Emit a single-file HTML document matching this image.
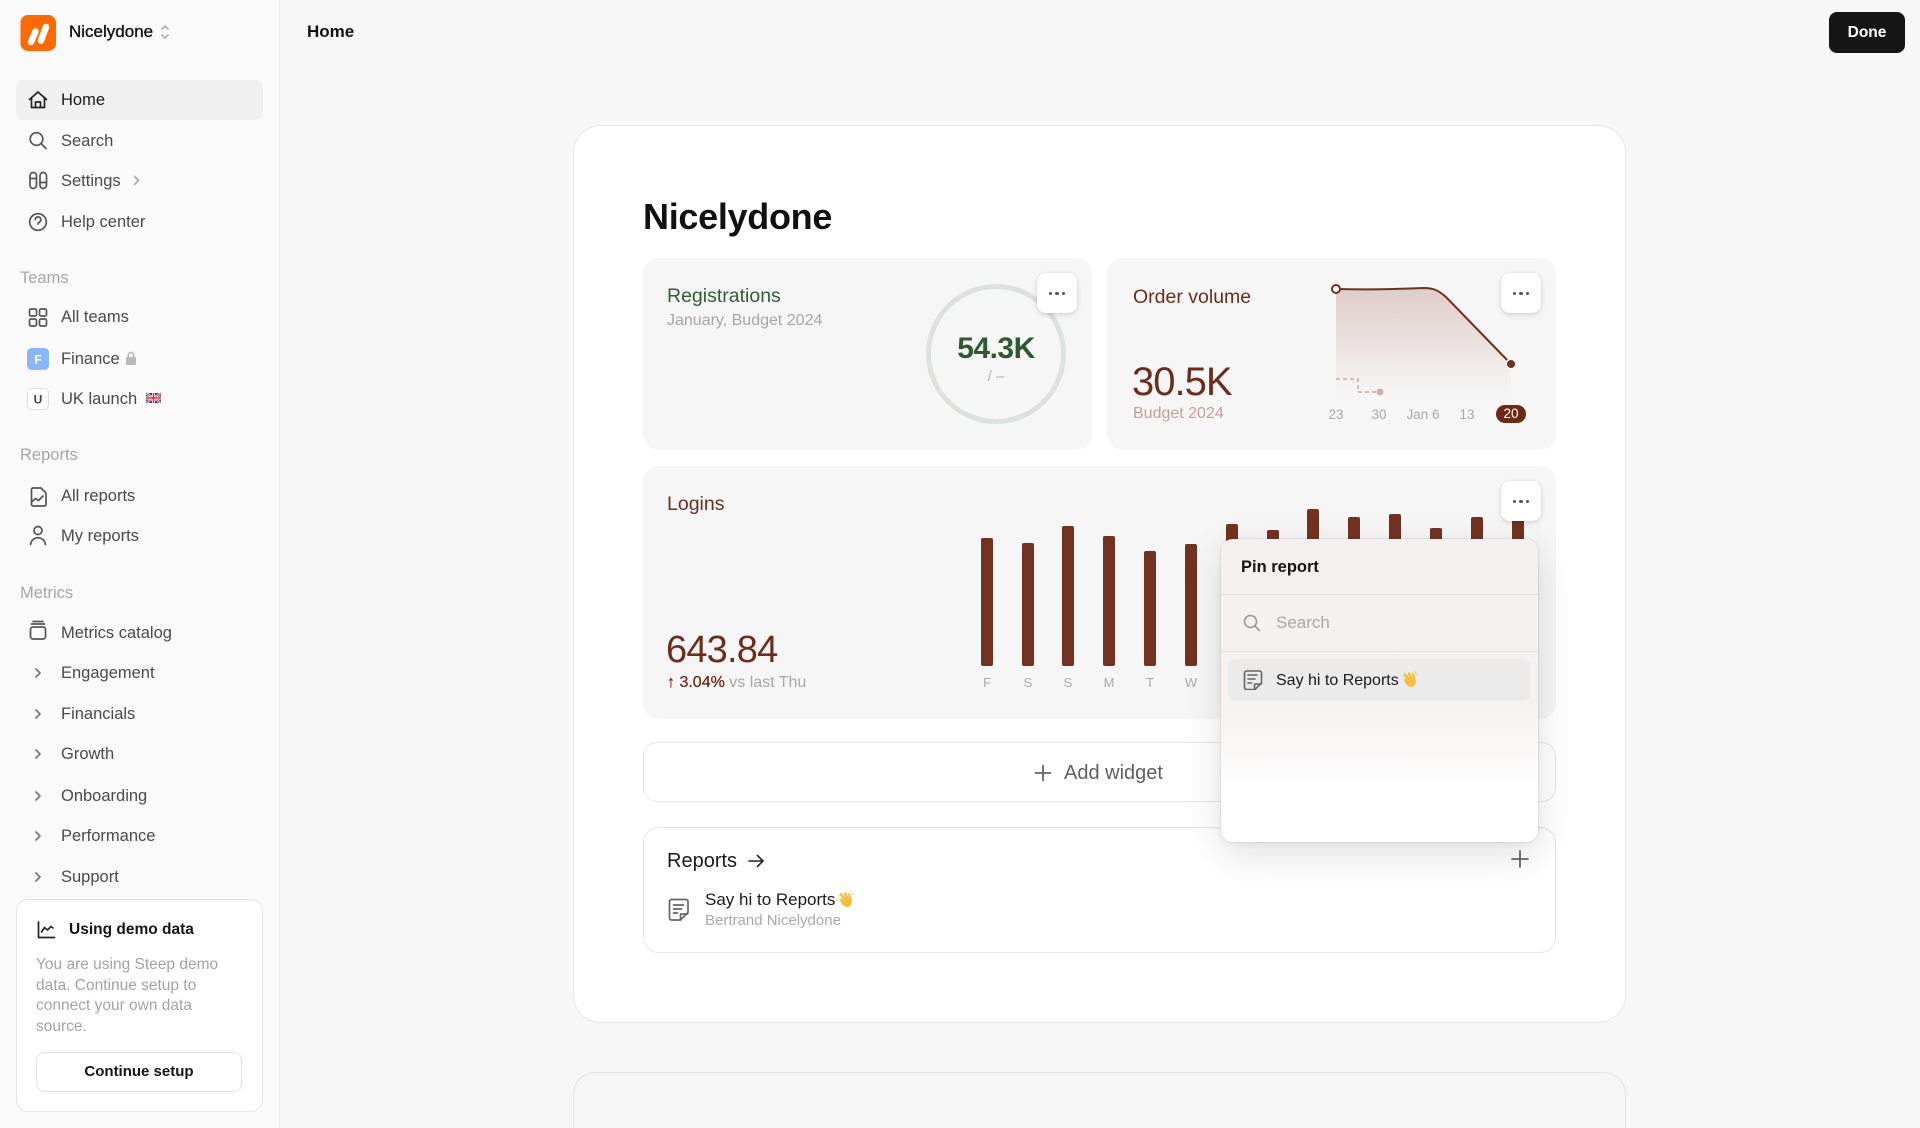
<!DOCTYPE html>
<html><head><meta charset="utf-8">
<style>
*{margin:0;padding:0;box-sizing:border-box}
html,body{width:1920px;height:1128px;overflow:hidden}
body{background:#f7f7f7;font-family:"Liberation Sans",Arial,sans-serif;position:relative;color:#1a1a1a}
.a{position:absolute}
.t{position:absolute;white-space:nowrap;line-height:20px}
.nav{font-size:16.5px;color:#4a4a4a}
.sec{font-size:16.5px;color:#a6a6a6}
.more{position:absolute;width:40px;height:40px;background:#fff;border-radius:9px;box-shadow:0 2px 6px rgba(0,0,0,.13),0 0 0 1px rgba(0,0,0,.03);z-index:6}
.more i{position:absolute;top:19px;width:3.4px;height:3.4px;border-radius:50%;background:#555}
.card{position:absolute;background:#f6f6f6;border-radius:16px}
.emo{display:inline-block;position:relative;width:18px;height:18px;vertical-align:-3px;margin-left:3px;color:transparent;overflow:hidden}
.emo svg{position:absolute;left:0;top:0}
</style></head><body>

<!-- Sidebar -->
<div class="a" style="left:0;top:0;width:280px;height:1128px;background:#fafafa;border-right:1px solid #ebebeb"></div>
<div class="a" style="left:16px;top:80px;width:247px;height:40px;background:#f0f0f0;border-radius:8px"></div>

<div class="t" style="left:69px;top:22px;font-size:17px;color:#111;-webkit-text-stroke:0.35px #111">Nicelydone</div>

<div class="t nav" style="left:61px;top:90px;color:#1a1a1a">Home</div>
<div class="t nav" style="left:61px;top:131px">Search</div>
<div class="t nav" style="left:61px;top:171px">Settings</div>
<div class="t nav" style="left:61px;top:212px">Help center</div>

<div class="t sec" style="left:20px;top:268px">Teams</div>
<div class="t nav" style="left:61px;top:307px">All teams</div>
<div class="t nav" style="left:61px;top:349px">Finance</div>
<div class="t nav" style="left:61px;top:389px">UK launch <span class="emo" style="width:17px">🇬🇧<svg width="17" height="18" viewBox="0 0 17 18"><rect x="1" y="4" width="15" height="10" fill="#2b3f8c"/><path d="M1 4L16 14M16 4L1 14" stroke="#fff" stroke-width="2.2"/><path d="M1 4L16 14M16 4L1 14" stroke="#d2323c" stroke-width=".8"/><path d="M8.5 4V14M1 9H16" stroke="#fff" stroke-width="3"/><path d="M8.5 4V14M1 9H16" stroke="#d2323c" stroke-width="1.6"/></svg></span></div>

<div class="t sec" style="left:20px;top:445px">Reports</div>
<div class="t nav" style="left:61px;top:486px">All reports</div>
<div class="t nav" style="left:61px;top:526px">My reports</div>

<div class="t sec" style="left:20px;top:583px">Metrics</div>
<div class="t nav" style="left:61px;top:623px">Metrics catalog</div>
<div class="t nav" style="left:61px;top:663px">Engagement</div>
<div class="t nav" style="left:61px;top:704px">Financials</div>
<div class="t nav" style="left:61px;top:744px">Growth</div>
<div class="t nav" style="left:61px;top:786px">Onboarding</div>
<div class="t nav" style="left:61px;top:826px">Performance</div>
<div class="t nav" style="left:61px;top:867px">Support</div>

<!-- demo card -->
<div class="a" style="left:16px;top:899px;width:247px;height:213px;background:#fff;border:1px solid #e5e5e5;border-radius:12px"></div>
<div class="t" style="left:69px;top:920px;font-size:15.5px;font-weight:700;color:#151515">Using demo data</div>
<div class="a" style="left:36px;top:955px;font-size:15.5px;line-height:20.5px;color:#a3a3a3;white-space:nowrap">You are using Steep demo<br>data. Continue setup to<br>connect your own data<br>source.</div>
<div class="a" style="left:36px;top:1052px;width:206px;height:40px;border:1px solid #e2e2e2;border-radius:8px;background:#fff;text-align:center;line-height:38px;font-size:15px;font-weight:700;color:#151515">Continue setup</div>

<!-- Top bar -->
<div class="t" style="left:307px;top:22px;font-size:17px;font-weight:700;color:#111">Home</div>
<div class="a" style="left:1829px;top:12px;width:76px;height:41px;background:#161616;border-radius:8px;color:#fff;font-size:15.5px;font-weight:700;text-align:center;line-height:41px">Done</div>

<!-- Main card -->
<div class="a" style="left:573px;top:125px;width:1053px;height:898px;background:#fff;border:1px solid #e8e8e8;border-radius:28px"></div>
<div class="a" style="left:573px;top:1072px;width:1053px;height:56px;background:#f6f6f6;border:1px solid #e3e3e3;border-bottom:none;border-radius:22px 22px 0 0"></div>

<div class="t" style="left:643px;top:195px;font-size:36px;line-height:44px;font-weight:700;color:#111;letter-spacing:-.3px">Nicelydone</div>

<!-- Registrations -->
<div class="card" style="left:643px;top:258px;width:449px;height:192px"></div>
<div class="t" style="left:667px;top:285px;font-size:19.5px;line-height:22px;color:#2f5f30">Registrations</div>
<div class="t" style="left:667px;top:311px;font-size:16px;color:#a6a6a6">January, Budget 2024</div>
<div class="t" style="left:936px;top:331px;width:120px;text-align:center;font-size:30px;line-height:36px;font-weight:700;color:#2d5a2e;letter-spacing:-.5px">54.3K</div>
<div class="t" style="left:936px;top:367px;width:120px;text-align:center;font-size:15px;color:#b3b3b3">/ –</div>

<!-- Order volume -->
<div class="card" style="left:1107px;top:258px;width:449px;height:192px"></div>
<div class="t" style="left:1133px;top:286px;font-size:19.5px;line-height:22px;color:#6e2d1c">Order volume</div>
<div class="t" style="left:1132px;top:358px;font-size:40px;line-height:48px;color:#6e2d1c;letter-spacing:-1px">30.5K</div>
<div class="t" style="left:1133px;top:404px;font-size:16px;color:#c2a199">Budget 2024</div>
<div class="t" style="left:1316px;top:405px;width:40px;text-align:center;font-size:13.5px;color:#a8a8a8">23</div>
<div class="t" style="left:1359px;top:405px;width:40px;text-align:center;font-size:13.5px;color:#a8a8a8">30</div>
<div class="t" style="left:1398px;top:405px;width:50px;text-align:center;font-size:13.5px;color:#a8a8a8">Jan 6</div>
<div class="t" style="left:1447px;top:405px;width:40px;text-align:center;font-size:13.5px;color:#a8a8a8">13</div>
<div class="a" style="left:1496px;top:405px;width:30px;height:18px;border-radius:9px;background:#6b2916;color:#fff;font-size:13.5px;line-height:18px;text-align:center">20</div>

<!-- Logins -->
<div class="card" style="left:643px;top:466px;width:913px;height:253px"></div>
<div class="t" style="left:667px;top:493px;font-size:19.5px;line-height:22px;color:#6e2d1c">Logins</div>
<div class="t" style="left:666px;top:627px;font-size:38px;line-height:46px;color:#6e2d1c;letter-spacing:-.8px">643.84</div>
<div class="t" style="left:667px;top:673px;font-size:16px;color:#a8a8a8"><span style="color:#6e2d1c;-webkit-text-stroke:0.3px #6e2d1c">↑ 3.04%</span> vs last Thu</div>
<div class="t" style="left:977px;top:673px;width:20px;text-align:center;font-size:13px;color:#ababab">F</div>
<div class="t" style="left:1018px;top:673px;width:20px;text-align:center;font-size:13px;color:#ababab">S</div>
<div class="t" style="left:1058px;top:673px;width:20px;text-align:center;font-size:13px;color:#ababab">S</div>
<div class="t" style="left:1099px;top:673px;width:20px;text-align:center;font-size:13px;color:#ababab">M</div>
<div class="t" style="left:1140px;top:673px;width:20px;text-align:center;font-size:13px;color:#ababab">T</div>
<div class="t" style="left:1181px;top:673px;width:20px;text-align:center;font-size:13px;color:#ababab">W</div>
<div class="t" style="left:1221px;top:673px;width:20px;text-align:center;font-size:13px;color:#ababab">T</div>

<!-- Add widget -->
<div class="a" style="left:643px;top:742px;width:913px;height:60px;background:#fff;border:1px solid #e5e5e5;border-radius:14px"></div>
<div class="t" style="left:1064px;top:762px;font-size:20px;line-height:22px;color:#5f5f5f">Add widget</div>

<!-- Reports card -->
<div class="a" style="left:643px;top:827px;width:913px;height:126px;background:#fff;border:1px solid #e5e5e5;border-radius:16px"></div>
<div class="t" style="left:667px;top:850px;font-size:20px;line-height:22px;color:#1a1a1a">Reports</div>
<div class="t" style="left:705px;top:890px;font-size:17px;color:#1a1a1a">Say hi to Reports<span class="emo">👋<svg width="18" height="18" viewBox="0 0 18 18"><path d="M5 15c-3-3-3.5-6-2-7l2 2-3-5c0-1.5 1.5-1.8 2.3-.8L7.5 8 5.6 3.3c.3-1.4 1.8-1.4 2.4-.4l2.6 4.6-.5-3.7c.4-1.2 1.8-1.1 2.2 0l1.5 6.5c.6 3.1-.8 6-3.8 6.7-1.7.3-3.3-.5-5-2z" fill="#f6bf3a"/><path d="M2 2.5l1.5 1M1 5.5l1.3.3M14 1.5l-.6 1.4M16 4l-1.4.6" stroke="#bbb" stroke-width=".9"/></svg></span></div>
<div class="t" style="left:705px;top:911px;font-size:15px;color:#a9a9a9">Bertrand Nicelydone</div>

<!-- overlay svg for icons & charts -->
<svg class="a" style="left:0;top:0;z-index:3" width="1920" height="1128" viewBox="0 0 1920 1128">
 <defs>
  <linearGradient id="ar" x1="0" y1="0" x2="0" y2="1">
   <stop offset="0" stop-color="#c09a90" stop-opacity=".45"/>
   <stop offset="1" stop-color="#c09a90" stop-opacity="0"/>
  </linearGradient>
 </defs>
 <!-- logo -->
 <rect x="20.5" y="15" width="35.5" height="36" rx="7.5" fill="#ff6a00"/>
 <path d="M31 42L35.5 31.5" stroke="#fff" stroke-width="6.5" stroke-linecap="round"/>
 <path d="M41 40.5L46 27" stroke="#fff" stroke-width="6.5" stroke-linecap="round"/>
 <path d="M161.5 29.5l3.5-3.5 3.5 3.5M161.5 34.5l3.5 3.5 3.5-3.5" stroke="#a5a5a5" stroke-width="1.5" fill="none"/>
 <g fill="none" stroke="#555" stroke-width="1.7" stroke-linecap="round" stroke-linejoin="round">
  <!-- home -->
  <path d="M29.5 99.5L38 92l8.5 7.5M31.5 97.5V107.5H44.5V97.5M35.5 107.5V102h5v5.5" stroke="#222"/>
  <!-- search -->
  <circle cx="36.5" cy="139" r="6.3"/><path d="M41.2 143.7L46 148.5"/>
  <!-- settings -->
  <rect x="30" y="172.5" width="6.5" height="16" rx="3.2"/><rect x="40" y="172.5" width="6.5" height="16" rx="3.2"/>
  <path d="M30 178.5h6.5M40 182.5h6.5"/>
  <path d="M134.5 176.5l4 4-4 4" stroke="#aaa"/>
  <!-- help -->
  <circle cx="38" cy="222" r="8.3"/>
  <path d="M35.3 219.6a2.8 2.8 0 1 1 4.1 2.5c-.9.5-1.4 1-1.4 2"/>
  <!-- all teams -->
  <rect x="29.5" y="309" width="7" height="7" rx="1.6"/><rect x="39.5" y="309" width="7" height="7" rx="1.6"/>
  <rect x="29.5" y="319" width="7" height="7" rx="1.6"/><rect x="39.5" y="319" width="7" height="7" rx="1.6"/>
  <!-- all reports -->
  <path d="M31.5 489.5a1.5 1.5 0 0 1 1.5-1.5h8l5 5v11.5a1.5 1.5 0 0 1-1.5 1.5h-11.5a1.5 1.5 0 0 1-1.5-1.5z"/>
  <path d="M31.5 502l4-3.5 3 2 4.5-4.5"/>
  <!-- my reports -->
  <circle cx="38" cy="530.5" r="4"/><path d="M30.5 544.5c.8-4.5 4-6.8 7.5-6.8s6.7 2.3 7.5 6.8"/>
  <!-- metrics catalog -->
  <rect x="30.5" y="627" width="15" height="12" rx="2.5"/><path d="M31.5 624h13M33 621.5h10"/>
  <!-- chevrons -->
  <path d="M36 669l4 4-4 4M36 710l4 4-4 4M36 750l4 4-4 4M36 792l4 4-4 4M36 832l4 4-4 4M36 873l4 4-4 4" stroke="#777"/>
  <!-- demo icon -->
  <path d="M38.5 922v15.5h16" stroke="#222"/>
  <path d="M41.5 932l3-4.5 3 2.5 3.5-3.5 2 1.5" stroke="#222"/>
  <!-- add widget plus -->
  <path d="M1035.5 773h15M1043 765.5v15" stroke="#666" stroke-width="1.8"/>
  <!-- reports arrow -->
  <path d="M749 861h14M757.5 855.5l5.5 5.5-5.5 5.5" stroke="#222" stroke-width="1.6"/>
  <!-- reports doc -->
  <path d="M669.5 901.5a2 2 0 0 1 2-2h14.5a2 2 0 0 1 2 2v11l-7.5 7.5h-9a2 2 0 0 1-2-2z" stroke="#666"/>
  <path d="M673.5 905h10M673.5 909h8M673.5 913h4M680.5 919.5v-4.5a1 1 0 0 1 1-1h6" stroke="#666"/>
  <!-- right plus -->
  <path d="M1512 859h16M1520 851v16" stroke="#666" stroke-width="1.8"/>
 </g>
 <!-- finance / uk badges -->
 <rect x="27" y="348" width="22" height="22" rx="4.5" fill="#8ab6fb"/>
 <text x="38" y="363.5" text-anchor="middle" font-family="Liberation Sans, Arial, sans-serif" font-size="12" font-weight="700" fill="#fff">F</text>
 <rect x="27.5" y="388.5" width="21" height="21" rx="4.5" fill="#fff" stroke="#dedede"/>
 <text x="38" y="403.5" text-anchor="middle" font-family="Liberation Sans, Arial, sans-serif" font-size="12" font-weight="700" fill="#444">U</text>
 <!-- lock -->
 <rect x="126" y="357" width="10" height="8" rx="1.5" fill="#b9b9b9"/>
 <path d="M128.3 357.5v-2.3a2.7 2.7 0 0 1 5.4 0v2.3" stroke="#b9b9b9" stroke-width="1.6" fill="none"/>

 <!-- registrations ring -->
 <circle cx="996" cy="354" r="67.5" fill="none" stroke="#dce2dd" stroke-width="5"/>

 <!-- order volume chart -->
 <path d="M1336 289C1370 290 1400 289 1424 288C1433 288 1438 290 1446 297L1511 364L1511 396L1336 396Z" fill="url(#ar)"/>
 <path d="M1336 289C1370 290 1400 289 1424 288C1433 288 1438 290 1446 297L1511 364" fill="none" stroke="#73301d" stroke-width="2"/>
 <path d="M1336 379H1358V392H1380" fill="none" stroke="#cba9a2" stroke-width="1.6" stroke-dasharray="4 3"/>
 <circle cx="1380" cy="392" r="3.5" fill="#d0b0a9"/>
 <circle cx="1336" cy="289" r="4" fill="#fff" stroke="#73301d" stroke-width="2"/>
 <circle cx="1511" cy="364" r="4.8" fill="#73301d" stroke="#fff" stroke-width="1.5"/>

 <!-- logins bars -->
 <g fill="#73321f">
  <rect x="981" y="538" width="12" height="128" rx="2"/>
  <rect x="1022" y="543" width="12" height="123" rx="2"/>
  <rect x="1062" y="526" width="12" height="140" rx="2"/>
  <rect x="1103" y="536" width="12" height="130" rx="2"/>
  <rect x="1144" y="551" width="12" height="115" rx="2"/>
  <rect x="1185" y="544" width="12" height="122" rx="2"/>
  <rect x="1226" y="524" width="12" height="142" rx="2"/>
  <rect x="1267" y="530" width="12" height="136" rx="2"/>
  <rect x="1307" y="509" width="12" height="157" rx="2"/>
  <rect x="1348" y="517" width="12" height="149" rx="2"/>
  <rect x="1389" y="514" width="12" height="152" rx="2"/>
  <rect x="1430" y="528" width="12" height="138" rx="2"/>
  <rect x="1471" y="517" width="12" height="149" rx="2"/>
  <rect x="1512" y="513" width="12" height="153" rx="2"/>
 </g>
</svg>

<!-- more buttons -->
<div class="more" style="left:1037px;top:273px"><i style="left:12px"></i><i style="left:18.3px"></i><i style="left:24.6px"></i></div>
<div class="more" style="left:1501px;top:273px"><i style="left:12px"></i><i style="left:18.3px"></i><i style="left:24.6px"></i></div>
<div class="more" style="left:1501px;top:481px"><i style="left:12px"></i><i style="left:18.3px"></i><i style="left:24.6px"></i></div>

<!-- popup -->
<div class="a" style="left:1221px;top:539px;width:317px;height:303px;border-radius:12px;z-index:5;overflow:hidden;background:linear-gradient(180deg,#f4f0ef 0px,#f5f2f1 165px,#fff 255px);box-shadow:0 12px 40px rgba(0,0,0,.12),0 2px 8px rgba(0,0,0,.05),0 0 0 1px rgba(0,0,0,.05)">
 <div class="t" style="left:20px;top:18px;font-size:16.5px;font-weight:700;color:#151515">Pin report</div>
 <div class="a" style="left:0;top:55px;width:317px;height:1px;background:rgba(0,0,0,.08)"></div>
 <svg class="a" style="left:21px;top:74px" width="20" height="20" viewBox="0 0 20 20"><circle cx="8.5" cy="8.5" r="6" fill="none" stroke="#9a9a9a" stroke-width="1.6"/><path d="M13 13l4.5 4.5" stroke="#9a9a9a" stroke-width="1.6" stroke-linecap="round"/></svg>
 <div class="t" style="left:55px;top:74px;font-size:17px;color:#a9a9a9">Search</div>
 <div class="a" style="left:0;top:112px;width:317px;height:1px;background:rgba(0,0,0,.08)"></div>
 <div class="a" style="left:7px;top:120px;width:302px;height:42px;background:#ebebeb;border-radius:7px"></div>
 <svg class="a" style="left:22px;top:131px" width="20" height="20" viewBox="0 0 20 20"><g fill="none" stroke="#666" stroke-width="1.6" stroke-linecap="round" stroke-linejoin="round"><path d="M1.5 3a2 2 0 0 1 2-2h13a2 2 0 0 1 2 2v10l-6.5 6.5h-8.5a2 2 0 0 1-2-2z"/><path d="M5 5h9M5 9h7M5 13h3.5M11.5 19v-4a1 1 0 0 1 1-1h6"/></g></svg>
 <div class="t" style="left:55px;top:131px;font-size:16px;color:#1a1a1a">Say hi to Reports<span class="emo">👋<svg width="18" height="18" viewBox="0 0 18 18"><path d="M5 15c-3-3-3.5-6-2-7l2 2-3-5c0-1.5 1.5-1.8 2.3-.8L7.5 8 5.6 3.3c.3-1.4 1.8-1.4 2.4-.4l2.6 4.6-.5-3.7c.4-1.2 1.8-1.1 2.2 0l1.5 6.5c.6 3.1-.8 6-3.8 6.7-1.7.3-3.3-.5-5-2z" fill="#f6bf3a"/><path d="M2 2.5l1.5 1M1 5.5l1.3.3M14 1.5l-.6 1.4M16 4l-1.4.6" stroke="#bbb" stroke-width=".9"/></svg></span></div>
</div>

</body></html>
